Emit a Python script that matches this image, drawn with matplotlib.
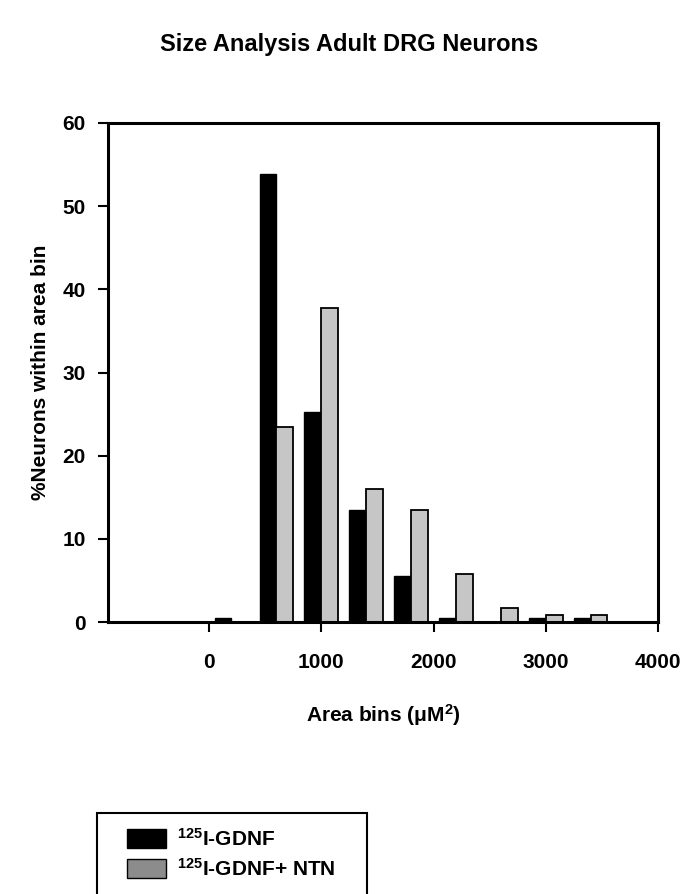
import numpy as np
import matplotlib
matplotlib.use("Agg")
from matplotlib import pyplot as plt
from matplotlib.patches import Rectangle

plt.rcParams["font.family"] = ["Liberation Sans", "DejaVu Sans"]
plt.rcParams["font.weight"] = "bold"
plt.rcParams["mathtext.fontset"] = "custom"
plt.rcParams["mathtext.rm"] = "Liberation Sans:bold"
plt.rcParams["mathtext.bf"] = "Liberation Sans:bold"
plt.rcParams["mathtext.default"] = "bf"

# bin centres (area, um^2) and % of neurons in each bin
bins = [200, 600, 1000, 1400, 1800, 2200, 2600, 3000, 3400]
gdnf = [0.5, 53.9, 25.3, 13.5, 5.5, 0.5, 0.0, 0.5, 0.5]
gdnf_ntn = [0.0, 23.5, 37.8, 16.0, 13.5, 5.8, 1.7, 0.9, 0.9]
xticks = [0, 1000, 2000, 3000, 4000]
yticks = [0, 10, 20, 30, 40, 50, 60]

W, H = 699, 894
fig = plt.figure(figsize=(W / 100, H / 100), dpi=100)
ax = fig.add_axes([108 / W, 1 - 622 / H, 550 / W, 499 / H])

x = np.array(bins)
w = 150
ax.bar(x - w / 2, gdnf, width=w, color="black", edgecolor="black", linewidth=1)
ax.bar(x + w / 2, gdnf_ntn, width=w, color="#c6c6c6", edgecolor="black",
       linewidth=1.3)

ax.set_xlim(-900, 4000)
ax.set_ylim(0, 60)
ax.set_xticks(xticks)
ax.set_yticks(yticks)
ax.tick_params(direction="out", length=7, width=1.5, labelsize=15)
ax.tick_params(axis="x", pad=15)
ax.tick_params(axis="y", pad=9)
for s in ax.spines.values():
    s.set_linewidth(2.2)

ax.set_ylabel("%Neurons within area bin", fontsize=15, fontweight="bold", labelpad=9)
ax.set_xlabel("Area bins (μM$^{2}$)", fontsize=15, fontweight="bold", labelpad=22)
fig.text(0.5, 1 - 45 / H, "Size Analysis Adult DRG Neurons", ha="center",
         va="center", fontsize=17, fontweight="bold")

# legend box runs off the bottom of the page
fig.patches.append(Rectangle((97 / W, -0.01), 270 / W, 0.01 + (H - 813) / H,
                             transform=fig.transFigure, facecolor="white",
                             edgecolor="black", linewidth=1.5))
h1 = Rectangle((0, 0), 1, 1, facecolor="black", edgecolor="black")
h2 = Rectangle((0, 0), 1, 1, facecolor="#8c8c8c", edgecolor="black")
leg = fig.legend([h1, h2], ["$^{125}$I-GDNF", "$^{125}$I-GDNF+ NTN"],
                 loc="upper left", bbox_to_anchor=(112 / W, 1 - 813 / H),
                 frameon=False, fontsize=15, handlelength=1.9,
                 handleheight=1.05, handletextpad=0.5, borderpad=0.2,
                 labelspacing=0.4)

plt.savefig("out.png", dpi=100)
